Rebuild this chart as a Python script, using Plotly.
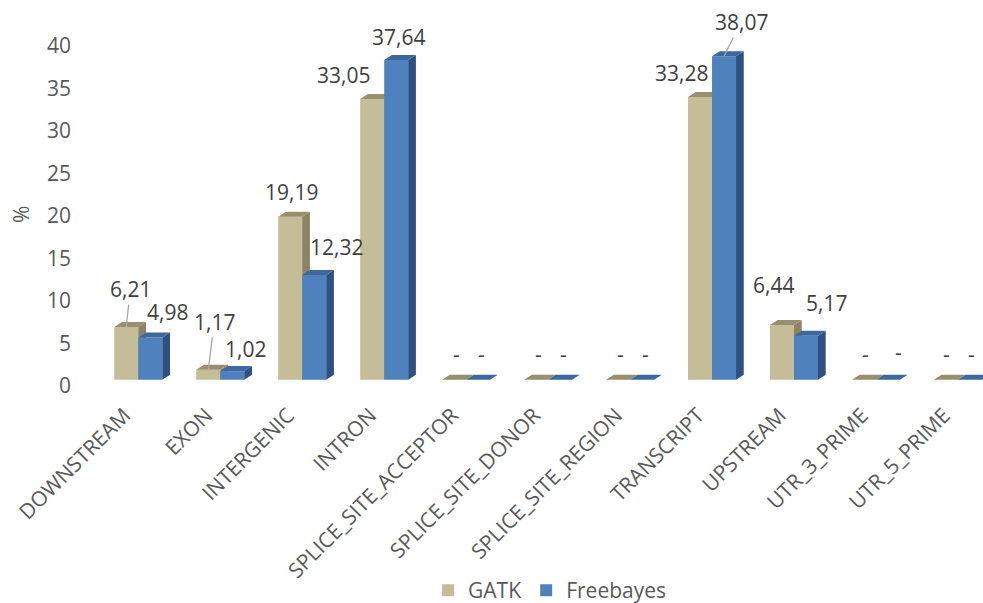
import plotly.graph_objects as go

# ---------------- data ----------------
categories = ["DOWNSTREAM", "EXON", "INTERGENIC", "INTRON", "SPLICE_SITE_ACCEPTOR",
              "SPLICE_SITE_DONOR", "SPLICE_SITE_REGION", "TRANSCRIPT", "UPSTREAM",
              "UTR_3_PRIME", "UTR_5_PRIME"]
gatk = [6.21, 1.17, 19.19, 33.05, 0, 0, 0, 33.28, 6.44, 0, 0]
freebayes = [4.98, 1.02, 12.32, 37.64, 0, 0, 0, 38.07, 5.17, 0, 0]
y_ticks = [0, 5, 10, 15, 20, 25, 30, 35, 40]

# ---------------- style ----------------
FONT = "Open Sans"
TXT = "#595959"
LBL = "#404040"
PX_X = 81.96          # pixels per category
PX_Y = 8.5            # pixels per unit
BAR_W = 24 / PX_X     # front face width (data units)
DX = 7.7 / PX_X       # 3D depth, horizontal
DY = 5.0 / PX_Y       # 3D depth, vertical
X_RANGE = [-0.7113, 10.306]
Y_RANGE = [-0.5, 44.7]

series = [
    dict(name="GATK", vals=gatk, offset=-BAR_W, front="#C4BD97", top="#978F6E", side="#8A8463",
         lab=[(4, -38, True), (6, -48, True), (1, -25, False), (-29, -24, False), (2, -26, False),
              (2, -26, False), (2, -26, False), (-19, -24, False), (-9, -40, False), (2, -26, False),
              (1, -26, False)]),
    dict(name="Freebayes", vals=freebayes, offset=0.0, front="#4F81BD", top="#3C689C", side="#2E5182",
         lab=[(17, -25, False), (13, -22, False), (22, -28, False), (2, -23, False), (3, -26, False),
              (3, -26, False), (3, -26, False), (17, -34, True), (20, -33, False), (11, -28, False),
              (2, -26, False)]),
]

fig = go.Figure()
annotations = []
axes = [("x", "y"), ("x2", "y2")]

for s, (xa, ya) in zip(series, axes):
    pos = list(range(len(categories)))
    fig.add_trace(go.Bar(
        x=pos, y=s["vals"], width=BAR_W, offset=s["offset"], base=0,
        marker=dict(color=s["front"], line=dict(width=0)),
        name=s["name"], xaxis=xa, yaxis=ya, hoverinfo="skip"))
    tx, ty, sx, sy = [], [], [], []
    for i, v in enumerate(s["vals"]):
        x0 = i + s["offset"]
        x1 = x0 + BAR_W
        tx += [x0, x1, x1 + DX, x0 + DX, x0, None]
        ty += [v, v, v + DY, v + DY, v, None]
        sx += [x1, x1, x1 + DX, x1 + DX, x1, None]
        sy += [0, v, v + DY, DY, 0, None]
    fig.add_trace(go.Scatter(x=sx, y=sy, mode="lines", fill="toself", fillcolor=s["side"],
                             line=dict(width=0), showlegend=False, hoverinfo="skip",
                             xaxis=xa, yaxis=ya))
    fig.add_trace(go.Scatter(x=tx, y=ty, mode="lines", fill="toself", fillcolor=s["top"],
                             line=dict(width=0), showlegend=False, hoverinfo="skip",
                             xaxis=xa, yaxis=ya))
    for i, v in enumerate(s["vals"]):
        ax, ay, leader = s["lab"][i]
        text = "-" if v == 0 else f"{v:.2f}".replace(".", ",")
        annotations.append(dict(
            x=i + s["offset"] + BAR_W / 2, y=v, xref="x", yref="y", text=text,
            showarrow=True, ax=ax, ay=ay, arrowhead=0, arrowwidth=1.3, standoff=0,
            arrowcolor="#A6A6A6" if leader else "rgba(0,0,0,0)",
            font=dict(family=FONT, size=21, color=LBL)))

annotations.append(dict(
    x=-0.0653, y=0.44, xref="paper", yref="paper", xanchor="center", yanchor="middle",
    text="%", textangle=-90, showarrow=False,
    font=dict(family=FONT, size=21, color=TXT)))

fig.update_layout(
    width=983, height=603,
    margin=dict(l=80, r=0, t=0, b=218.8, autoexpand=False),
    paper_bgcolor="white", plot_bgcolor="white",
    barmode="overlay",
    font=dict(family=FONT, size=21, color=TXT),
    xaxis=dict(range=X_RANGE, tickmode="array", tickvals=[i - 0.17 for i in range(len(categories))],
               ticktext=categories, tickangle=-45, showgrid=False, zeroline=False, showline=False,
               ticks="", ticklabelstandoff=14,
               tickfont=dict(family=FONT, size=21, color=TXT), fixedrange=True),
    yaxis=dict(range=Y_RANGE, tickmode="array", tickvals=y_ticks, ticktext=[str(t) for t in y_ticks],
               showgrid=False, zeroline=False, showline=False, ticks="", ticklabelshift=6,
               ticklabelstandoff=8, tickfont=dict(family=FONT, size=21, color=TXT), fixedrange=True),
    xaxis2=dict(range=X_RANGE, overlaying="x", matches="x", visible=False),
    yaxis2=dict(range=Y_RANGE, overlaying="y", matches="y", visible=False),
    legend=dict(orientation="h", x=0.52, xanchor="center", y=-0.538, yanchor="middle",
                font=dict(family=FONT, size=21, color=TXT), itemwidth=30,
                bgcolor="rgba(0,0,0,0)"),
    annotations=annotations,
    showlegend=True,
)

fig.write_html("out.html")
